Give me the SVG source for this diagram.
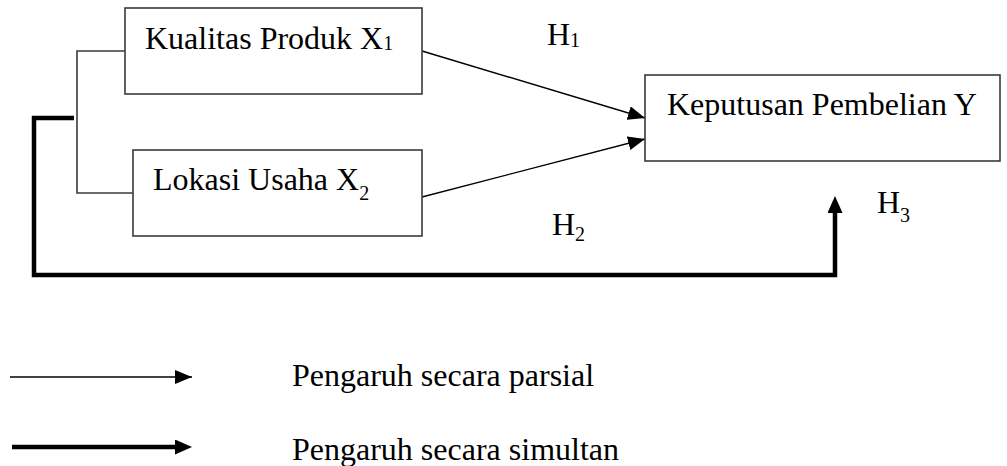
<svg xmlns="http://www.w3.org/2000/svg" width="1007" height="466" viewBox="0 0 1007 466">
  <style>
    .box { fill: #ffffff; stroke: #3a3a3a; stroke-width: 1.6; }
    .txt { font-family: "Liberation Serif", "Times New Roman", serif; font-size: 32px; fill: #000000; }
    .sub { font-size: 20px; }
    .thin { fill: none; stroke: #000000; stroke-width: 1.4; }
    .link { fill: none; stroke: #3a3a3a; stroke-width: 1.6; }
    .thick { fill: none; stroke: #000000; stroke-width: 4.5; stroke-linejoin: miter; stroke-linecap: butt; }
  </style>
  <defs>
    <!-- tip placed at the end of the line -->
    <marker id="headThin" viewBox="0 0 17 14" refX="17" refY="7" markerWidth="17" markerHeight="14" markerUnits="userSpaceOnUse" orient="auto">
      <path d="M0,0 L17,7 L0,14 z" fill="#000000"/>
    </marker>
    <!-- base placed at the end of the line, tip extends beyond it -->
    <marker id="headThick" viewBox="0 0 17 15" refX="1" refY="7.5" markerWidth="17" markerHeight="15" markerUnits="userSpaceOnUse" orient="auto">
      <path d="M0,0 L17,7.5 L0,15 z" fill="#000000"/>
    </marker>
  </defs>

  <g id="connectors">
    <!-- bracket joining the two independent variables -->
    <path class="link" d="M125,51 H77 V193 H133"/>
    <!-- partial effects -->
    <line class="thin" x1="422" y1="51" x2="645" y2="118" marker-end="url(#headThin)"/>
    <line class="thin" x1="422" y1="197" x2="645" y2="139" marker-end="url(#headThin)"/>
    <!-- simultaneous effect -->
    <path class="thick" d="M74,118 H34 V275 H835 V212" marker-end="url(#headThick)"/>
  </g>

  <g id="node-x1">
    <rect class="box" x="125" y="8" width="297" height="86"/>
    <text class="txt" x="145" y="49">Kualitas Produk X<tspan class="sub" font-size="22" dy="1">1</tspan></text>
  </g>

  <g id="node-x2">
    <rect class="box" x="133" y="150" width="289" height="86"/>
    <text class="txt" x="153" y="190">Lokasi Usaha X<tspan class="sub" dy="10">2</tspan></text>
  </g>

  <g id="node-y">
    <rect class="box" x="645" y="75" width="355" height="86"/>
    <text class="txt" x="667" y="115">Keputusan Pembelian Y</text>
  </g>

  <g id="labels">
    <text class="txt" x="547" y="45">H<tspan class="sub" font-size="22" dy="2">1</tspan></text>
    <text class="txt" x="552" y="235">H<tspan class="sub" dy="6">2</tspan></text>
    <text class="txt" x="877" y="213">H<tspan class="sub" dy="9">3</tspan></text>
  </g>

  <g id="legend">
    <line class="thin" x1="10" y1="377" x2="192" y2="377" marker-end="url(#headThin)"/>
    <text class="txt" x="292" y="386">Pengaruh secara parsial</text>
    <path class="thick" d="M12,447 H176" marker-end="url(#headThick)"/>
    <text class="txt" x="292" y="460">Pengaruh secara simultan</text>
  </g>
</svg>
